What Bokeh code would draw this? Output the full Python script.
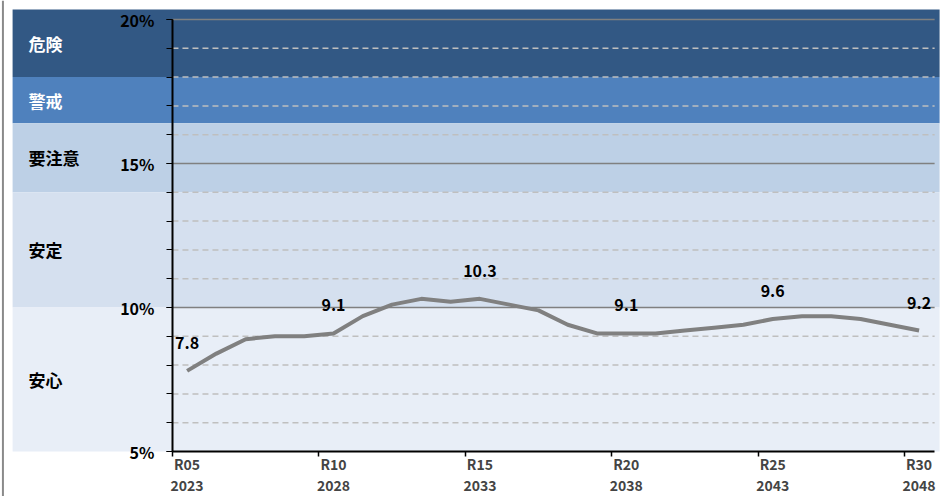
from bokeh.plotting import figure
from bokeh.models import Range1d, LinearAxis, FixedTicker, ColumnDataSource, PrintfTickFormatter, Span
from bokeh.core.properties import value
from bokeh.embed import file_html
from bokeh.resources import INLINE

# ---- data ----
categories = ["R05", "R06", "R07", "R08", "R09", "R10", "R11", "R12", "R13", "R14",
              "R15", "R16", "R17", "R18", "R19", "R20", "R21", "R22", "R23", "R24",
              "R25", "R26", "R27", "R28", "R29", "R30"]
ratio = [7.8, 8.4, 8.9, 9.0, 9.0, 9.1, 9.7, 10.1, 10.3, 10.2,
         10.3, 10.1, 9.9, 9.4, 9.1, 9.1, 9.1, 9.2, 9.3, 9.4,
         9.6, 9.7, 9.7, 9.6, 9.4, 9.2]
labeled_idx = [0, 5, 10, 15, 20, 25]
tick_r = ["R05", "R10", "R15", "R20", "R25", "R30"]
tick_ad = ["2023", "2028", "2033", "2038", "2043", "2048"]

band_names = ["危険", "警戒", "要注意", "安定", "安心"]
band_low = [18.0, 16.4, 14.0, 10.0, 5.0]
band_high = [20.35, 18.0, 16.4, 14.0, 10.0]
band_colors = ["#325884", "#4f81bd", "#bdd0e6", "#d5e0ef", "#e8eef7"]
band_text_colors = ["#ffffff", "#ffffff", "#000000", "#000000", "#000000"]

minor_levels = [6, 7, 8, 9, 11, 12, 13, 14, 16, 17, 18, 19]
major_levels = [10, 15, 20]
y_ticks = [5, 10, 15, 20]

FONT = "Noto Sans CJK JP"

x = list(range(len(categories)))
n = len(categories)
# plot area covers the whole picture; axes are placed at fixed data locations
xr = Range1d(-6.373, 25.765)
yr = Range1d(3.4375, 20.66)
band_left, band_right = -5.96, 25.70
plot_right = 25.53

p = figure(width=941, height=496, x_range=xr, y_range=yr,
           x_axis_type=None, y_axis_type=None, output_backend="svg",
           toolbar_location=None, min_border=0)
p.outline_line_color = None
p.xgrid.visible = False
p.ygrid.visible = False
p.background_fill_color = "white"
p.border_fill_color = "white"

# left border of chart area
p.add_layout(Span(location=-6.29, dimension="height", line_color="#8a8a8a", line_width=2))

# bands
p.quad(left=band_left, right=band_right, bottom=band_low, top=band_high,
       fill_color=band_colors, line_color=None)

# grid lines
p.segment(x0=[-0.5] * len(minor_levels), x1=[plot_right] * len(minor_levels),
          y0=minor_levels, y1=minor_levels, line_color="#bfbfbf",
          line_width=1.5, line_dash="6 4")
p.segment(x0=[-0.5] * len(major_levels), x1=[plot_right] * len(major_levels),
          y0=major_levels, y1=major_levels, line_color="#808080", line_width=1.5)

# band labels
band_mid = [(a + b) / 2 for a, b in zip(band_low, band_high)]
p.text(x=[-5.42] * len(band_names), y=band_mid, text=band_names,
       text_color=band_text_colors, text_font=value(FONT), text_font_style="bold",
       text_font_size="17px", text_align="left", text_baseline="middle")

# data line
p.line(x, ratio, line_color="#808080", line_width=4)

# data labels
lab = ColumnDataSource(dict(x=[x[i] for i in labeled_idx],
                            y=[ratio[i] for i in labeled_idx],
                            t=["%.1f" % ratio[i] for i in labeled_idx]))
p.text(x="x", y="y", text="t", source=lab, text_align="center",
       text_baseline="middle", y_offset=-28, text_font=value(FONT),
       text_font_size="16px", text_color="#000000", text_font_style="bold")

# y axis at the category boundary
yax = LinearAxis(fixed_location=-0.5, bounds=(y_ticks[0], y_ticks[-1]),
                 ticker=FixedTicker(ticks=y_ticks,
                                    minor_ticks=list(range(y_ticks[0], y_ticks[-1] + 1))),
                 formatter=PrintfTickFormatter(format="%d%%"))
yax.axis_line_color = "black"
yax.axis_line_width = 2
yax.major_tick_out = 6
yax.major_tick_in = 0
yax.minor_tick_out = 6
yax.minor_tick_in = 0
yax.major_tick_line_color = "black"
yax.minor_tick_line_color = "black"
yax.major_label_standoff = 12
yax.major_label_text_font = FONT
yax.major_label_text_font_style = "bold"
yax.major_label_text_font_size = "16px"
yax.major_label_text_color = "#000000"
p.add_layout(yax, "left")

ticks_major = [labeled_idx[k] for k in range(len(tick_r))]
ticks_bound = [t - 0.5 for t in ticks_major]

xax1 = LinearAxis(fixed_location=y_ticks[0],
                  ticker=FixedTicker(ticks=ticks_major, minor_ticks=ticks_bound),
                  bounds=(-0.5, plot_right))
xax1.major_label_overrides = {t: s for t, s in zip(ticks_major, tick_r)}
xax1.axis_line_color = "black"
xax1.axis_line_width = 2
xax1.major_tick_line_color = None
xax1.major_tick_out = 0
xax1.major_tick_in = 0
xax1.minor_tick_out = 5
xax1.minor_tick_in = 0
xax1.minor_tick_line_color = "black"
xax1.minor_tick_line_width = 1.5
xax1.major_label_standoff = -3
xax1.major_label_text_font = FONT
xax1.major_label_text_font_style = "bold"
xax1.major_label_text_font_size = "14px"
p.add_layout(xax1, "below")

xax2 = LinearAxis(fixed_location=y_ticks[0],
                  ticker=FixedTicker(ticks=ticks_major, minor_ticks=[]),
                  bounds=(-0.5, plot_right))
xax2.major_label_overrides = {t: s for t, s in zip(ticks_major, tick_ad)}
xax2.axis_line_color = None
xax2.major_tick_line_color = None
xax2.minor_tick_line_color = None
xax2.major_tick_out = 0
xax2.major_tick_in = 0
xax2.minor_tick_out = 0
xax2.minor_tick_in = 0
xax2.major_label_standoff = 28
xax2.major_label_text_font = FONT
xax2.major_label_text_font_style = "bold"
xax2.major_label_text_font_size = "14px"
p.add_layout(xax2, "below")

open("out.html", "w").write(file_html(p, INLINE))
